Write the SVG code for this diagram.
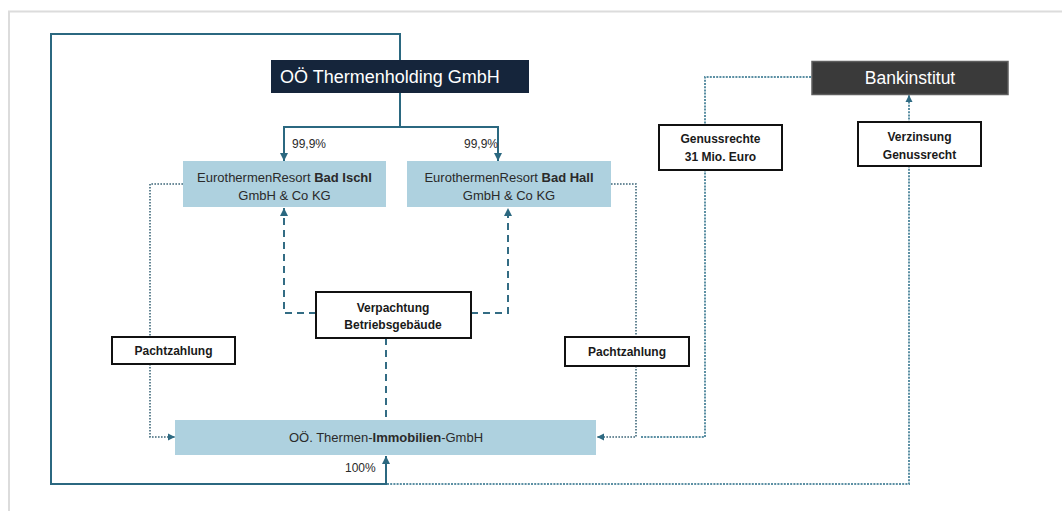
<svg xmlns="http://www.w3.org/2000/svg" width="1062" height="511" viewBox="0 0 1062 511">
<style>
text{font-family:"Liberation Sans",Arial,sans-serif;}
.solid{fill:none;stroke:#2b6880;stroke-width:2;}
.dash{fill:none;stroke:#336c84;stroke-width:2;stroke-dasharray:7 5;}
.dotp{fill:none;stroke:#3e6779;stroke-width:1.6;stroke-dasharray:1.6 1.4;}
.dotb{fill:none;stroke:#5b8fa3;stroke-width:2;stroke-dasharray:2 1.2;}
.lb{fill:#aed1df;}
.lbl{fill:#fff;stroke:#111;stroke-width:2;}
.t13{font-size:13px;fill:#2a2a2a;}
.b12{font-size:12px;font-weight:bold;fill:#1a1a1a;}
.p12{font-size:12px;fill:#2a2a2a;}
</style>
<defs>
<marker id="ah" markerWidth="10" markerHeight="10" refX="8" refY="5" orient="auto" markerUnits="userSpaceOnUse">
<path d="M0,1 L8,5 L0,9 Z" fill="#2b6880"/>
</marker>
<marker id="ahs" markerWidth="9" markerHeight="9" refX="7" refY="4.5" orient="auto" markerUnits="userSpaceOnUse">
<path d="M0,1 L7,4.5 L0,8 Z" fill="#2e6a82"/>
</marker>
</defs>
<rect width="1062" height="511" fill="#fff"/>
<path d="M9 511 V11.5 H1062" fill="none" stroke="#dcdcdc" stroke-width="2"/>

<g id="connectors">
<path class="solid" d="M400 60 V34 H51 V484 H386 V456" marker-end="url(#ah)"/>
<path class="solid" d="M400 93 V127"/>
<path class="solid" d="M400 127 H284 V161" marker-end="url(#ah)"/>
<path class="solid" d="M400 127 H498 V161" marker-end="url(#ah)"/>
<path class="dash" d="M386 338 V420"/>
<path class="dash" d="M316 313 H284 V208" marker-end="url(#ah)"/>
<path class="dash" d="M471 313 H508 V208" marker-end="url(#ah)"/>
<path class="dotp" d="M183 184 H150 V437 H175" marker-end="url(#ahs)"/>
<path class="dotp" d="M611 184 H636 V437 H597" marker-end="url(#ahs)"/>
<path class="dotb" d="M811 77 H705 V437 H640"/>
<path class="dotb" d="M387 484 H909 V95" marker-end="url(#ahs)"/>
</g>

<g id="holding">
<rect x="271" y="60" width="258" height="33" fill="#15253b"/>
<text x="280" y="83" font-size="18" fill="#fff">OÖ Thermenholding GmbH</text>
</g>

<g id="bank">
<rect x="812" y="61.5" width="196" height="33" fill="#3a3a3a" stroke="#5e5e5e" stroke-width="1.5"/>
<text x="910" y="84" font-size="17.5" fill="#fff" text-anchor="middle">Bankinstitut</text>
</g>

<g id="ischl">
<rect class="lb" x="183" y="161" width="203" height="46"/>
<text class="t13" x="284.5" y="182" text-anchor="middle">EurothermenResort <tspan font-weight="bold">Bad Ischl</tspan></text>
<text class="t13" x="284.5" y="200" text-anchor="middle">GmbH &amp; Co KG</text>
</g>

<g id="hall">
<rect class="lb" x="407" y="161" width="204" height="46"/>
<text class="t13" x="509" y="182" text-anchor="middle">EurothermenResort <tspan font-weight="bold">Bad Hall</tspan></text>
<text class="t13" x="509" y="200" text-anchor="middle">GmbH &amp; Co KG</text>
</g>

<g id="immobilien">
<rect class="lb" x="175" y="420" width="421" height="35"/>
<text class="t13" x="386" y="442" text-anchor="middle">OÖ. Thermen-<tspan font-weight="bold">Immobilien</tspan>-GmbH</text>
</g>

<g id="verpachtung">
<rect class="lbl" x="316" y="292" width="155" height="46"/>
<text class="b12" x="393" y="312" text-anchor="middle">Verpachtung</text>
<text class="b12" x="393" y="329" text-anchor="middle">Betriebsgebäude</text>
</g>

<g id="pacht-left">
<rect class="lbl" x="112" y="337" width="123" height="27"/>
<text class="b12" x="173.5" y="355" text-anchor="middle">Pachtzahlung</text>
</g>

<g id="pacht-right">
<rect class="lbl" x="565" y="337" width="124" height="29"/>
<text class="b12" x="627" y="356" text-anchor="middle">Pachtzahlung</text>
</g>

<g id="genussrechte">
<rect class="lbl" x="659" y="125" width="123" height="45"/>
<text class="b12" x="720.5" y="143" text-anchor="middle">Genussrechte</text>
<text class="b12" x="720.5" y="161" text-anchor="middle">31 Mio. Euro</text>
</g>

<g id="verzinsung">
<rect class="lbl" x="858" y="122" width="123" height="44"/>
<text class="b12" x="919.5" y="141" text-anchor="middle">Verzinsung</text>
<text class="b12" x="919.5" y="159" text-anchor="middle">Genussrecht</text>
</g>

<g id="labels">
<text class="p12" x="292" y="148">99,9%</text>
<text class="p12" x="464" y="148">99,9%</text>
<text class="p12" x="345" y="472">100%</text>
</g>
</svg>
